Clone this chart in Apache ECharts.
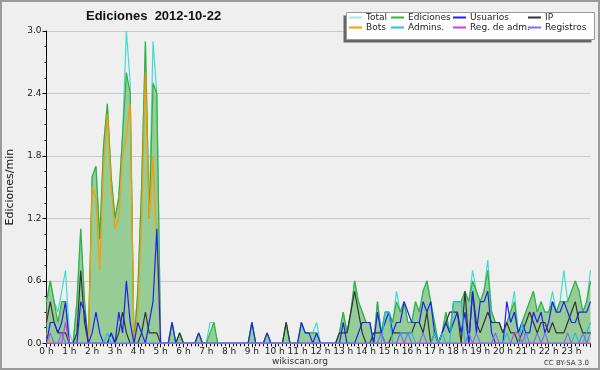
<!DOCTYPE html>
<html><head><meta charset="utf-8">
<script src="https://cdn.jsdelivr.net/npm/echarts@6/dist/echarts.min.js"></script>
<style>html,body{margin:0;padding:0;background:#efefef}#c{width:600px;height:370px}</style>
</head><body><div id="c"></div>
<script>
// 10-minute slots, 0..143 (00:00 .. 23:50); values in edits/min
const hourLabels = ['0 h','1 h','2 h','3 h','4 h','5 h','6 h','7 h','8 h','9 h','10 h','11 h','12 h','13 h','14 h','15 h','16 h','17 h','18 h','19 h','20 h','21 h','22 h','23 h'];
const yTicks = [0, 0.6, 1.2, 1.8, 2.4, 3.0];

const total = [
 0.4,0.6,0.4,0.3,0.5,0.7,0.1,0,0.4,1.1,0.4,0,
 1.6,1.7,1.0,1.9,2.3,1.6,1.2,1.4,2.0,3.0,2.5,0,
 0.5,1.5,2.9,1.2,2.9,2.4,0,0,0,0.2,0,0.1,
 0,0,0,0,0.1,0,0,0.2,0.2,0,0,0,
 0,0,0,0,0,0,0.2,0,0,0,0.1,0,
 0,0,0,0.2,0,0,0,0.2,0.1,0.1,0.1,0.2,
 0,0,0,0,0,0.1,0.3,0.1,0.3,0.6,0.4,0.3,
 0.2,0.2,0,0.4,0.1,0.3,0.3,0.2,0.5,0.3,0.4,0.2,
 0.2,0.4,0.3,0.5,0.6,0.4,0.2,0,0.1,0.3,0.1,0.4,
 0.4,0.4,0.5,0.4,0.7,0.5,0.4,0.5,0.8,0.3,0.2,0.2,
 0.1,0.2,0.3,0.5,0.1,0.2,0.3,0.4,0.5,0.3,0.4,0.3,
 0.3,0.5,0.3,0.4,0.7,0.4,0.5,0.6,0.5,0.3,0.4,0.7];
const ediciones = [
 0.4,0.6,0.4,0.2,0.4,0.4,0,0,0.4,1.1,0.4,0,
 1.6,1.7,1.0,1.9,2.3,1.6,1.2,1.4,2.0,2.6,2.4,0,
 0.5,1.5,2.9,1.2,2.5,2.4,0,0,0,0.2,0,0.1,
 0,0,0,0,0.1,0,0,0.1,0.2,0,0,0,
 0,0,0,0,0,0,0.2,0,0,0,0.1,0,
 0,0,0,0.2,0,0,0,0.2,0.1,0.1,0.1,0.1,
 0,0,0,0,0,0.1,0.3,0.1,0.3,0.6,0.4,0.3,
 0.2,0.2,0,0.4,0.1,0.3,0.3,0.2,0.4,0.3,0.4,0.2,
 0.2,0.4,0.3,0.5,0.6,0.4,0.2,0,0.1,0.3,0.1,0.4,
 0.4,0.4,0.5,0.4,0.6,0.5,0.4,0.5,0.7,0.3,0.2,0.2,
 0.1,0.2,0.3,0.4,0.1,0.2,0.3,0.4,0.5,0.3,0.4,0.3,
 0.3,0.4,0.3,0.4,0.4,0.4,0.5,0.6,0.5,0.3,0.4,0.6];
const usuarios = [
 0,0.2,0.2,0.1,0.2,0.4,0,0,0,0.4,0.3,0,
 0.1,0.3,0.1,0,0,0.1,0,0.3,0.1,0.6,0.2,0,
 0.2,0.1,0,0.2,0.4,1.1,0,0,0,0.2,0,0,
 0,0,0,0,0.1,0,0,0,0,0,0,0,
 0,0,0,0,0,0,0.2,0,0,0,0.1,0,
 0,0,0,0,0,0,0,0.2,0.1,0.1,0,0.1,
 0,0,0,0,0,0,0.2,0,0,0,0.1,0.2,
 0.2,0.2,0,0.3,0.1,0.2,0.3,0.1,0.2,0.2,0.4,0.3,
 0.2,0.2,0.2,0.4,0.3,0.4,0.1,0,0.1,0.2,0.1,0.2,
 0.3,0.1,0.3,0,0.5,0.1,0.4,0.4,0.5,0.1,0,0,
 0,0.4,0.2,0.3,0.1,0.2,0.1,0.1,0.3,0.2,0.3,0.1,
 0.2,0.4,0.3,0.3,0.4,0.3,0.2,0.2,0.3,0.3,0.3,0.4];
const ip = [
 0.2,0.4,0.2,0.1,0.1,0.1,0,0,0.1,0.7,0.2,0,
 0,0,0,0,0,0.1,0,0.1,0.3,0.1,0,0,
 0,0.1,0.3,0.1,0.1,0.1,0,0,0,0,0,0.1,
 0,0,0,0,0,0,0,0,0,0,0,0,
 0,0,0,0,0,0,0,0,0,0,0,0,
 0,0,0,0.2,0,0,0,0,0,0,0,0,
 0,0,0,0,0,0.1,0.1,0.1,0.3,0.5,0.3,0.1,
 0,0,0.1,0.1,0.1,0,0,0.1,0.1,0.1,0.1,0.1,
 0.1,0.2,0.2,0.1,0.3,0,0.1,0,0.1,0.2,0.3,0.3,
 0.3,0,0.5,0,0.5,0.2,0.1,0.2,0.3,0.2,0.2,0.2,
 0.1,0.2,0.1,0.1,0,0.1,0.2,0.3,0.2,0.1,0.2,0.2,
 0.1,0.2,0.1,0.1,0.1,0.2,0.3,0.4,0.2,0.1,0.1,0.1];
const bots = [
 0.1,0,0,0,0,0,0,0,0,0,0,0,
 1.5,1.4,0.7,1.7,2.2,1.5,1.1,1.2,1.8,2.0,2.3,0,
 0.3,1.2,2.6,1.2,1.8,0.9,0,0,0,0,0,0,
 0,0,0,0,0,0,0,0,0,0,0,0,
 0,0,0,0,0,0,0,0,0,0,0,0,
 0,0,0,0,0,0,0,0,0,0,0,0,
 0,0,0,0,0,0,0,0,0,0,0,0,
 0,0,0,0,0,0,0,0,0,0,0,0,
 0,0,0,0,0,0,0,0,0,0,0,0,
 0,0,0,0,0,0,0,0,0,0,0,0,
 0,0,0,0,0,0,0,0,0,0,0,0,
 0,0,0,0,0,0,0,0,0,0,0,0];
const admins = [
 0,0,0,0,0,0,0,0,0,0,0,0,
 0,0,0,0,0.1,0,0,0,0,0,0,0,
 0,0,0,0,0,0,0,0,0,0,0,0,
 0,0,0,0,0,0,0,0,0,0,0,0,
 0,0,0,0,0,0,0,0,0,0,0,0,
 0,0,0,0,0,0,0,0,0,0,0,0,
 0,0,0,0,0,0,0,0,0,0,0,0,
 0,0,0,0,0,0.3,0.3,0,0,0.1,0.1,0.1,
 0.1,0,0,0,0,0,0.1,0,0.1,0,0,0.4,
 0.4,0.4,0,0,0,0,0,0,0,0,0,0,
 0,0.1,0,0,0,0.2,0,0,0,0,0,0,
 0,0,0,0,0,0,0,0.1,0,0,0.1,0.2];
const regAdm = [
 0,0,0,0,0,0.2,0,0,0,0,0,0,
 0,0,0,0,0,0,0,0,0,0,0,0,
 0,0,0,0,0,0,0,0,0,0,0,0,
 0,0,0,0,0,0,0,0,0,0,0,0,
 0,0,0,0,0,0,0,0,0,0,0,0,
 0,0,0,0,0,0,0,0,0,0,0,0,
 0,0,0,0,0,0,0,0,0,0,0,0,
 0,0,0,0,0,0,0,0,0,0,0,0,
 0,0,0,0,0,0,0,0,0,0,0,0,
 0,0,0,0,0,0,0,0,0,0,0,0,
 0,0,0,0.1,0.1,0,0,0,0,0,0,0,
 0,0,0,0,0,0,0,0,0,0,0,0];
const registros = [
 0,0.1,0,0,0.1,0,0,0,0,0,0,0,
 0,0,0,0,0,0,0,0,0,0,0,0,
 0,0,0,0,0,0,0,0,0,0,0,0,
 0,0,0,0,0,0,0,0,0,0,0,0,
 0,0,0,0,0,0,0,0,0,0,0,0,
 0,0,0,0,0,0,0,0,0,0,0,0,
 0,0,0,0,0,0,0,0,0,0,0,0,
 0,0,0,0,0.1,0,0,0,0,0.1,0,0.1,
 0,0,0,0.1,0,0,0,0,0,0,0,0,
 0,0,0,0.1,0,0.1,0,0,0,0,0.1,0,
 0,0,0,0,0,0,0.1,0,0,0.1,0,0.1,
 0,0,0,0,0,0.1,0,0,0,0.1,0,0.1];

const FONT = "'DejaVu Sans', sans-serif";
const pts = arr => arr.map((v, i) => [i, v]);
const mk = (name, data, color, extra) => Object.assign({
  name, type: 'line', data: pts(data), showSymbol: false, symbol: 'none',
  lineStyle: { width: 1.2, color }, itemStyle: { color }, animation: false,
}, extra || {});

const chart = echarts.init(document.getElementById('c'), null, { renderer: 'canvas' });
const legendBase = {
  orient: 'vertical', itemWidth: 13, itemHeight: 2, itemGap: 1, icon: 'rect',
  padding: 0, z: 20,
  textStyle: { fontSize: 9, fontFamily: FONT, color: '#222', lineHeight: 9, padding: [0, 0, 0, -1] },
};
chart.setOption({
  backgroundColor: '#efefef',
  animation: false,
  title: {
    text: 'Ediciones  2012-10-22', left: 86, top: 10, padding: 0,
    textStyle: { fontSize: 13, fontWeight: 'bold', color: '#111', fontFamily: "'Liberation Sans', sans-serif" }
  },
  grid: { left: 46.5, right: 9.5, top: 31, bottom: 26.7, containLabel: false, outerBoundsMode: 'none' },
  legend: [
    Object.assign({ left: 349, top: 13, data: [{ name: 'Total', itemStyle: { color: '#a8e4e4' } }, 'Bots'] }, legendBase),
    Object.assign({ left: 391, top: 13, data: ['Ediciones', 'Admins.'] }, legendBase),
    Object.assign({ left: 453, top: 13, data: ['Usuarios', 'Reg. de adm.'] }, legendBase),
    Object.assign({ left: 528, top: 13, data: ['IP', 'Registros'] }, legendBase),
  ],
  xAxis: {
    type: 'value', min: 0, max: 143, interval: 6,
    axisLine: { show: true, lineStyle: { color: '#000', width: 1 } },
    axisTick: { show: true, length: 4, lineStyle: { color: '#000' } },
    minorTick: { show: true, splitNumber: 6, length: 3, lineStyle: { color: '#000' } },
    splitLine: { show: false },
    axisLabel: { fontSize: 9, fontFamily: FONT, color: '#222', margin: 4, formatter: v => hourLabels[v / 6] || '' },
  },
  yAxis: {
    type: 'value', min: yTicks[0], max: yTicks[yTicks.length - 1], interval: 0.6,
    axisLine: { show: true, lineStyle: { color: '#000', width: 1 } },
    axisTick: { show: true, length: 4, lineStyle: { color: '#000' } },
    minorTick: { show: true, splitNumber: 4, length: 2, lineStyle: { color: '#000' } },
    splitLine: { show: true, lineStyle: { color: '#c8c8c8', width: 1 } },
    axisLabel: { fontSize: 9, fontFamily: FONT, color: '#222', margin: 5, formatter: v => v.toFixed(1) },
    name: 'Ediciones/min', nameLocation: 'middle', nameGap: 31, nameRotate: 90,
    nameTextStyle: { fontSize: 11, fontFamily: FONT, color: '#111' },
  },
  graphic: [
    { type: 'rect', z: 0, silent: true, shape: { x: 1, y: 1, width: 598, height: 368 }, style: { fill: 'none', stroke: '#9a9a9a', lineWidth: 2 } },
    { type: 'rect', z: 15, silent: true, shape: { x: 343.5, y: 15.5, width: 248, height: 27 }, style: { fill: '#666' } },
    { type: 'rect', z: 16, silent: true, shape: { x: 346.5, y: 12.5, width: 248, height: 27 }, style: { fill: '#fff', stroke: '#999', lineWidth: 1 } },
    { type: 'text', z: 10, silent: true, style: { x: 300, y: 362, text: 'wikiscan.org', textAlign: 'center', textVerticalAlign: 'middle', fontSize: 9, fontFamily: FONT, fill: '#333' } },
    { type: 'text', z: 10, silent: true, style: { x: 589, y: 363, text: 'CC BY-SA 3.0', textAlign: 'right', textVerticalAlign: 'middle', fontSize: 7, fontFamily: FONT, fill: '#333' } },
  ],
  series: [
    mk('Total', total, '#40dcd4'),
    mk('Ediciones', ediciones, '#3aae3a', { areaStyle: { color: '#96cc96', opacity: 1 } }),
    mk('Bots', bots, '#ff9900'),
    mk('IP', ip, '#333333'),
    mk('Usuarios', usuarios, '#2020ee'),
    mk('Admins.', admins, '#28bce0'),
    mk('Reg. de adm.', regAdm, '#d040d8'),
    mk('Registros', registros, '#7474f0'),
  ],
});
</script></body></html>
